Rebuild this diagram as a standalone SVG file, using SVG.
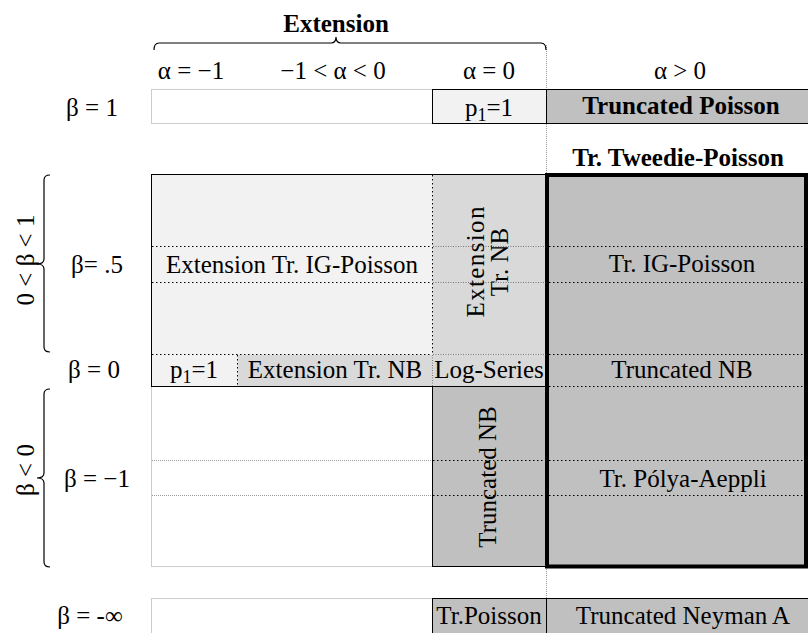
<svg xmlns="http://www.w3.org/2000/svg" width="808" height="633" viewBox="0 0 808 633">
<style>
text{font-family:"Liberation Serif","Times New Roman",serif;font-size:25px;fill:#000;text-anchor:middle}
.b{font-weight:bold}
.light{fill:#f2f2f2}
.mid{fill:#d9d9d9}
.dark{fill:#c0c0c0}
.box{stroke:#000;stroke-width:1}
.gdot{fill:none;stroke:#999;stroke-width:1;stroke-dasharray:1 1}
.kdot{fill:none;stroke:#000;stroke-width:1;stroke-dasharray:1.5 2.5}
.mdot{fill:none;stroke:#777;stroke-width:1;stroke-dasharray:1 1.5}
.brace{fill:none;stroke:#000;stroke-width:1.2}
</style>
<rect width="808" height="633" fill="#fff"/>

<g id="grid-empty">
<rect class="gdot" x="151.5" y="89.5" width="281" height="34"/>
<rect class="gdot" x="151.5" y="386.5" width="281" height="180"/>
<line class="gdot" x1="152" y1="460.5" x2="432" y2="460.5"/>
<line class="gdot" x1="152" y1="495.5" x2="432" y2="495.5"/>
<rect class="gdot" x="151.5" y="598.5" width="281" height="40"/>
<line class="gdot" x1="546.5" y1="45" x2="546.5" y2="89"/>
<line class="gdot" x1="546.5" y1="124" x2="546.5" y2="174"/>
<line class="gdot" x1="546.5" y1="567" x2="546.5" y2="598"/>
</g>

<g id="row-beta1">
<rect class="light box" x="432.5" y="89.5" width="114" height="34"/>
<rect class="dark box" x="546.5" y="89.5" width="264" height="34"/>
<text x="489" y="116">p<tspan font-size="18" dy="5">1</tspan><tspan dy="-5">=1</tspan></text>
<text class="b" x="681" y="114">Truncated Poisson</text>
</g>

<g id="ext-ig-poisson">
<rect class="light" x="151.5" y="174.5" width="281" height="180"/>
<line class="kdot" x1="152" y1="246.5" x2="432" y2="246.5"/>
<line class="kdot" x1="152" y1="282.5" x2="432" y2="282.5"/>
<text x="292" y="273">Extension Tr. IG-Poisson</text>
</g>

<g id="ext-tr-nb-col">
<rect class="mid" x="432.5" y="174.5" width="114" height="180"/>
<line class="mdot" x1="433" y1="246.5" x2="546" y2="246.5"/>
<line class="mdot" x1="433" y1="282.5" x2="546" y2="282.5"/>
<text transform="translate(484 262) rotate(-90)" textLength="111" lengthAdjust="spacing">Extension</text>
<text transform="translate(508 262) rotate(-90)">Tr. NB</text>
</g>

<g id="row-beta0">
<rect class="light" x="151.5" y="354.5" width="86" height="32"/>
<rect class="mid" x="237.5" y="354.5" width="195" height="32"/>
<rect class="mid" x="432.5" y="354.5" width="114" height="32"/>
<line class="kdot" x1="152" y1="354.5" x2="432" y2="354.5"/>
<line class="mdot" x1="433" y1="354.5" x2="546" y2="354.5"/>
<line class="kdot" x1="237.5" y1="355" x2="237.5" y2="386"/>
<line class="mdot" x1="432.5" y1="355" x2="432.5" y2="386"/>
<line class="kdot" x1="432.5" y1="175" x2="432.5" y2="354"/>
<text x="194" y="378">p<tspan font-size="18" dy="5">1</tspan><tspan dy="-5">=1</tspan></text>
<text x="335" y="378">Extension Tr. NB</text>
<text x="489" y="378">Log-Series</text>
<rect fill="none" stroke="#000" x="151.5" y="174.5" width="395" height="212"/>
</g>

<g id="truncated-nb-col">
<rect class="dark box" x="432.5" y="386.5" width="114" height="180"/>
<line class="kdot" x1="433" y1="460.5" x2="546" y2="460.5"/>
<line class="kdot" x1="433" y1="495.5" x2="546" y2="495.5"/>
<text transform="translate(496 477) rotate(-90)">Truncated NB</text>
</g>

<g id="tweedie-poisson">
<rect class="dark" x="547" y="175" width="259" height="391.5"/>
<line class="kdot" x1="549" y1="246.5" x2="804" y2="246.5"/>
<line class="kdot" x1="549" y1="282.5" x2="804" y2="282.5"/>
<line class="kdot" x1="549" y1="354.5" x2="804" y2="354.5"/>
<line class="kdot" x1="549" y1="386.5" x2="804" y2="386.5"/>
<line class="kdot" x1="549" y1="460.5" x2="804" y2="460.5"/>
<line class="kdot" x1="549" y1="495.5" x2="804" y2="495.5"/>
<rect fill="none" stroke="#000" stroke-width="4" x="547" y="175" width="259" height="391.5"/>
<text class="b" x="678" y="166">Tr. Tweedie-Poisson</text>
<text x="682" y="272">Tr. IG-Poisson</text>
<text x="682" y="378">Truncated NB</text>
<text x="683" y="487">Tr. Pólya-Aeppli</text>
</g>

<g id="row-beta-inf">
<rect class="dark box" x="432.5" y="598.5" width="114" height="40"/>
<rect class="dark box" x="546.5" y="598.5" width="264" height="40"/>
<text x="489" y="624">Tr.Poisson</text>
<text x="683" y="624">Truncated Neyman A</text>
</g>

<g id="headers">
<text class="b" x="336" y="32">Extension</text>
<text x="191" y="79">α = −1</text>
<text x="333" y="79">−1 &lt; α &lt; 0</text>
<text x="489" y="79">α = 0</text>
<text x="680" y="79">α &gt; 0</text>
<text x="92" y="116">β = 1</text>
<text x="97" y="273">β= .5</text>
<text x="94" y="378">β = 0</text>
<text x="97" y="487">β = −1</text>
<text x="90" y="624">β = -∞</text>
<text transform="translate(34 260) rotate(-90)">0 &lt; β &lt; 1</text>
<text transform="translate(34 470) rotate(-90)">β &lt; 0</text>
</g>

<g id="connectors">
<path class="brace" d="M154,50 Q154,43 159,43 L331,43 Q336,43 336,37 Q336,43 341,43 L541,43 Q546,43 546,50"/>
<path class="brace" d="M50,175 Q44,175 44,180 L44,259 Q44,264 37,264 Q44,264 44,269 L44,347 Q44,352 50,352"/>
<path class="brace" d="M50,389 Q44,389 44,394 L44,473 Q44,478 37,478 Q44,478 44,483 L44,562 Q44,567 50,567"/>
</g>
</svg>
